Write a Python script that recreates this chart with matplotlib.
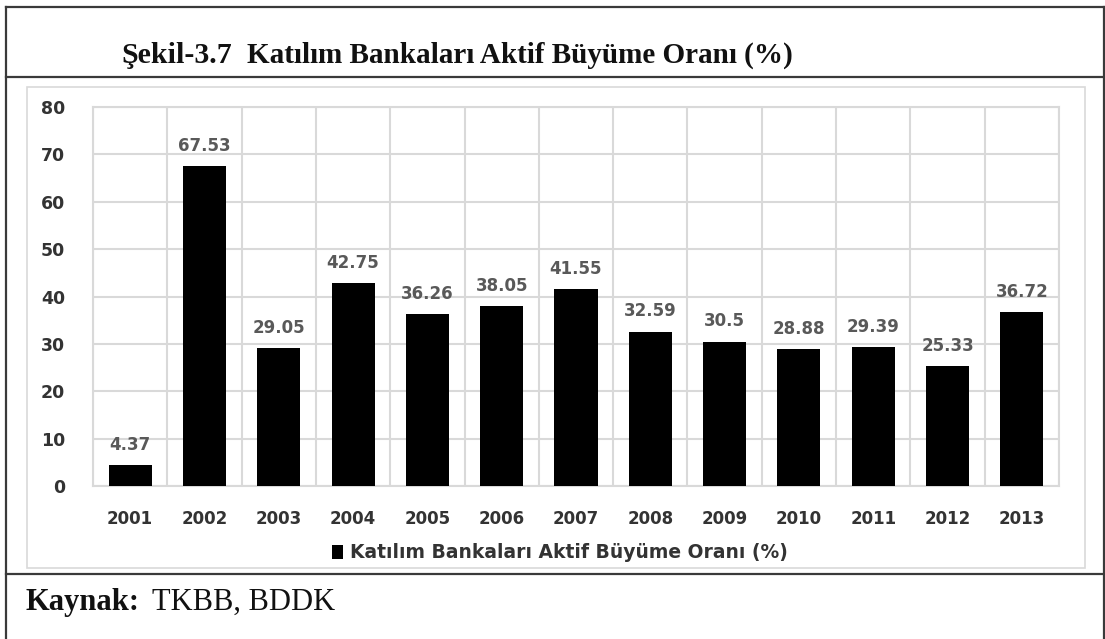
import matplotlib
matplotlib.use("Agg")
import matplotlib.pyplot as plt
from matplotlib.lines import Line2D
from matplotlib.patches import Rectangle
import numpy as np

# data
years = ['2001', '2002', '2003', '2004', '2005', '2006', '2007',
         '2008', '2009', '2010', '2011', '2012', '2013']
growth = [4.37, 67.53, 29.05, 42.75, 36.26, 38.05, 41.55,
          32.59, 30.5, 28.88, 29.39, 25.33, 36.72]
value_labels = ['4.37', '67.53', '29.05', '42.75', '36.26', '38.05', '41.55',
                '32.59', '30.5', '28.88', '29.39', '25.33', '36.72']
series_name = 'Katılım Bankaları Aktif Büyüme Oranı (%)'
W, H = 1105, 639

fig = plt.figure(figsize=(W / 100, H / 100), dpi=100)
fig.patch.set_facecolor('white')


def fx(px):
    return px / W


def fy(py):
    return 1 - py / H


# outer frame and separators
frame_kw = dict(color='#3a3a3a', lw=1.6, transform=fig.transFigure)
fig.add_artist(Line2D([fx(6), fx(6)], [fy(7), 0], **frame_kw))
fig.add_artist(Line2D([fx(1103.5), fx(1103.5)], [fy(7), 0], **frame_kw))
fig.add_artist(Line2D([fx(6), fx(1103.5)], [fy(7), fy(7)], **frame_kw))
fig.add_artist(Line2D([fx(6), fx(1103.5)], [fy(77), fy(77)], **frame_kw))
fig.add_artist(Line2D([fx(6), fx(1103.5)], [fy(574), fy(574)], **frame_kw))

# light grey chart-area border
fig.add_artist(Rectangle((fx(27), fy(568)), fx(1085) - fx(27), fy(87) - fy(568),
                         transform=fig.transFigure, fill=False,
                         edgecolor='#d9d9d9', lw=1.2))

# title
fig.text(fx(121), fy(63), 'Şekil-3.7', family='Liberation Serif', weight='bold',
         fontsize=21.5, va='baseline', ha='left', color='#111111')
fig.text(fx(247), fy(63), 'Katılım Bankaları Aktif Büyüme Oranı (%)',
         family='Liberation Serif', weight='bold', fontsize=21,
         va='baseline', ha='left', color='#111111')

# source
fig.text(fx(25), fy(610), 'Kaynak:', family='Liberation Serif', weight='bold',
         fontsize=22, va='baseline', ha='left', color='#111111')
fig.text(fx(152), fy(610), 'TKBB, BDDK', family='Liberation Serif',
         fontsize=22, va='baseline', ha='left', color='#111111')

ax = fig.add_axes([fx(93), fy(486), fx(1059) - fx(93), fy(107) - fy(486)])
x = np.arange(len(years))
bars = ax.bar(x, growth, width=0.58, color='black', label=series_name, zorder=3)

ax.set_xlim(-0.5, len(years) - 0.5)
ax.set_ylim(0, 80)
ax.set_yticks(np.arange(0, 81, 10))
ax.set_xticks(x)
ax.set_xticklabels(years)
ax.set_xticks(np.arange(-0.5, len(years), 1), minor=True)

ax.grid(axis='y', which='major', color='#d9d9d9', lw=1.5, zorder=0)
ax.grid(axis='x', which='minor', color='#d9d9d9', lw=1.5, zorder=0)
for s in ax.spines.values():
    s.set_color('#d9d9d9')
    s.set_linewidth(1.5)

ax.tick_params(which='both', length=0)
ax.tick_params(axis='x', pad=17)
ax.tick_params(axis='y', pad=20)
for lab in ax.get_xticklabels():
    lab.set_fontweight('bold')
    lab.set_fontsize(12)
    lab.set_color('#333333')
for lab in ax.get_yticklabels():
    lab.set_fontweight('bold')
    lab.set_fontsize(12.5)
    lab.set_color('#333333')

for xi, v, t in zip(x, growth, value_labels):
    ax.annotate(t, (xi, v), xytext=(0, 8), textcoords='offset points',
                ha='center', va='bottom', fontsize=12, fontweight='bold',
                color='#595959')

fig.legend(handles=[bars], labels=[series_name], loc='center',
           bbox_to_anchor=(fx(560), fy(553)), frameon=False,
           handlelength=0.6, handleheight=0.7, handletextpad=0.4,
           prop={'weight': 'bold', 'size': 13.5})
for t in fig.legends[0].get_texts():
    t.set_color('#333333')

fig.savefig('out.png', dpi=100)
